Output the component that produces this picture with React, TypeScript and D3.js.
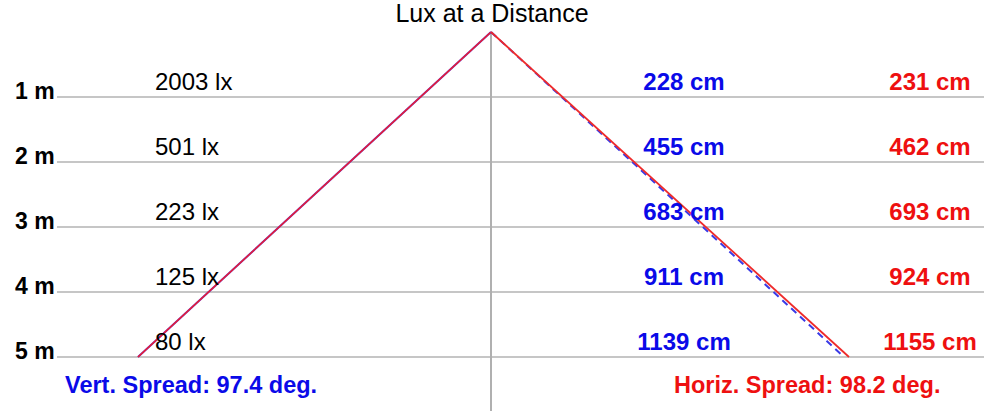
import React from 'react';
import * as d3 from 'd3';

// Distances (m) and the readings at each one
const distancesM = [1, 2, 3, 4, 5];
const luxValues = [2003, 501, 223, 125, 80];
const vertWidthsCm = [228, 455, 683, 911, 1139];
const horizWidthsCm = [231, 462, 693, 924, 1155];
const vertSpreadDeg = 97.4;
const horizSpreadDeg = 98.2;

const WIDTH = 1000;
const HEIGHT = 411;
const CENTER_X = 491;
const FONT = 'Arial, "Liberation Sans", sans-serif';

export default function App() {
  const maxDist = d3.max(distancesM) as number;

  const y = d3.scaleLinear().domain([0, maxDist]).range([32, 357]);
  // half-width in cm -> px, centred on the axis
  const x = d3.scaleLinear().domain([0, 577.5]).range([CENTER_X, 849]);

  const lastVertHalf = vertWidthsCm[vertWidthsCm.length - 1] / 2;
  const lastHorizHalf = horizWidthsCm[horizWidthsCm.length - 1] / 2;

  const line = d3
    .line<[number, number]>()
    .x(d => x(d[0]))
    .y(d => y(d[1]));

  const leftEdge = line([
    [0, 0],
    [-lastVertHalf, maxDist],
  ]) as string;
  const rightHoriz = line([
    [0, 0],
    [lastHorizHalf, maxDist],
  ]) as string;
  const rightVert = line([
    [0, 0],
    [lastVertHalf, maxDist],
  ]) as string;

  return (
    <div style={{ position: 'absolute', left: 0, top: 0, background: '#fff' }}>
      <svg width={WIDTH} height={HEIGHT} style={{ display: 'block', fontFamily: FONT }}>
        <rect width={WIDTH} height={HEIGHT} fill="#fff" />

        {/* grid lines */}
        {distancesM.map(d => (
          <line key={'g' + d} x1={57} x2={984} y1={y(d)} y2={y(d)} stroke="#c6c6c6" strokeWidth={2} />
        ))}

        {/* centre axis */}
        <line x1={CENTER_X} x2={CENTER_X} y1={y(0)} y2={HEIGHT} stroke="#b0b0b0" strokeWidth={2} />

        {/* beam edges */}
        <path d={leftEdge} stroke="#6a2ab8" strokeWidth={2} fill="none" />
        <path d={leftEdge} stroke="#f01c2c" strokeWidth={1.3} fill="none" />
        <path d={rightVert} stroke="#3a3ae6" strokeWidth={2} strokeDasharray="7,5" fill="none" />
        <path d={rightHoriz} stroke="#ee2a2a" strokeWidth={1.8} fill="none" />

        {/* title */}
        <text x={CENTER_X + 1} y={22} textAnchor="middle" fontSize={25} fill="#000">
          Lux at a Distance
        </text>

        {/* row labels */}
        {distancesM.map((d, i) => (
          <g key={'r' + d}>
            <text x={15} y={y(d) + 1.5} fontSize={23} fontWeight="bold" fill="#000">
              {d} m
            </text>
            <text x={155} y={y(d) - 7} fontSize={24} fill="#000">
              {luxValues[i]} lx
            </text>
            <text x={684} y={y(d) - 7} fontSize={24} fontWeight="bold" textAnchor="middle" fill="#0a0ae8">
              {vertWidthsCm[i]} cm
            </text>
            <text x={930} y={y(d) - 7} fontSize={24} fontWeight="bold" textAnchor="middle" fill="#ee1010">
              {horizWidthsCm[i]} cm
            </text>
          </g>
        ))}

        {/* spread notes */}
        <text x={65} y={393} fontSize={23.5} fontWeight="bold" fill="#0a0ae8">
          Vert. Spread: {vertSpreadDeg} deg.
        </text>
        <text x={674} y={393} fontSize={23.5} fontWeight="bold" fill="#ee1010">
          Horiz. Spread: {horizSpreadDeg} deg.
        </text>
      </svg>
    </div>
  );
}
